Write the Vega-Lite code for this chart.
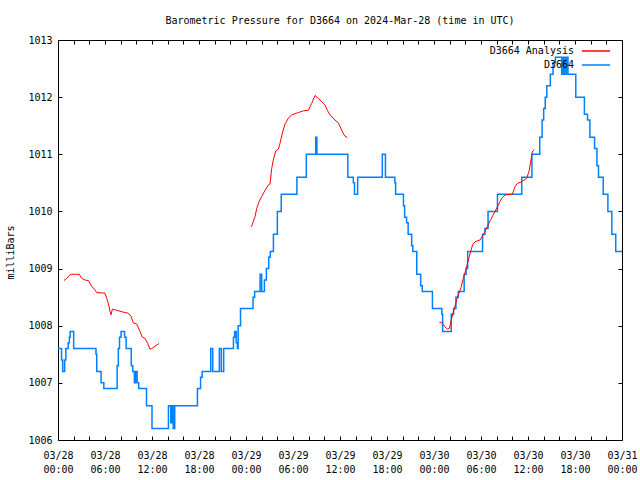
{
  "$schema": "https://vega.github.io/schema/vega-lite/v6.json",
  "width": 564,
  "height": 400,
  "autosize": {"type": "none"},
  "padding": {"left": 58, "top": 40, "right": 18, "bottom": 40},
  "background": "white",
  "config": {
    "view": {"stroke": "black", "strokeWidth": 1},
    "font": "DejaVu Sans Mono",
    "axis": {"labelFont": "DejaVu Sans Mono", "labelFontSize": 10, "labelColor": "black", "titleFont": "DejaVu Sans Mono", "titleFontSize": 10, "titleFontWeight": "normal", "titleColor": "black", "grid": false, "domain": false, "tickColor": "black", "tickWidth": 1}
  },
  "title": {"text": "Barometric Pressure for D3664 on 2024-Mar-28 (time in UTC)", "font": "DejaVu Sans Mono", "fontSize": 10, "fontWeight": "normal", "color": "black", "anchor": "middle", "offset": 9},
  "datasets": {
    "obs": [
      {"hour":0,"mb":1007.6},{"hour":0.45,"mb":1007.4},{"hour":0.6,"mb":1007.2},{"hour":0.85,"mb":1007.4},{"hour":1.0,"mb":1007.6},{"hour":1.3,"mb":1007.7},{"hour":1.45,"mb":1007.8},{"hour":1.55,"mb":1007.9},{"hour":2.0,"mb":1007.6},{"hour":4.85,"mb":1007.5},{"hour":4.95,"mb":1007.2},{"hour":5.5,"mb":1007.0},{"hour":5.85,"mb":1006.9},{"hour":7.55,"mb":1007.3},{"hour":7.7,"mb":1007.6},{"hour":7.85,"mb":1007.8},{"hour":8.05,"mb":1007.9},{"hour":8.5,"mb":1007.8},{"hour":8.7,"mb":1007.6},{"hour":9.35,"mb":1007.3},{"hour":9.55,"mb":1007.2},{"hour":9.75,"mb":1007.0},{"hour":9.9,"mb":1007.2},{"hour":10.1,"mb":1007.0},{"hour":10.3,"mb":1006.9},{"hour":11.3,"mb":1006.6},{"hour":12.0,"mb":1006.2},{"hour":14.1,"mb":1006.6},{"hour":14.4,"mb":1006.3},{"hour":14.55,"mb":1006.6},{"hour":14.7,"mb":1006.2},{"hour":14.9,"mb":1006.6},{"hour":17.8,"mb":1006.9},{"hour":18.2,"mb":1007.1},{"hour":18.4,"mb":1007.2},{"hour":19.5,"mb":1007.6},{"hour":19.75,"mb":1007.2},{"hour":20.6,"mb":1007.6},{"hour":20.85,"mb":1007.2},{"hour":21.15,"mb":1007.6},{"hour":22.4,"mb":1007.8},{"hour":22.55,"mb":1007.9},{"hour":22.75,"mb":1007.7},{"hour":22.9,"mb":1007.6},{"hour":23.0,"mb":1008.0},{"hour":23.3,"mb":1008.3},{"hour":24.9,"mb":1008.5},{"hour":25.1,"mb":1008.6},{"hour":25.8,"mb":1008.9},{"hour":26.0,"mb":1008.6},{"hour":26.35,"mb":1008.8},{"hour":26.6,"mb":1009.0},{"hour":26.9,"mb":1009.2},{"hour":27.1,"mb":1009.3},{"hour":27.5,"mb":1009.6},{"hour":28.0,"mb":1010.0},{"hour":28.5,"mb":1010.3},{"hour":30.5,"mb":1010.6},{"hour":31.7,"mb":1011.0},{"hour":32.9,"mb":1011.3},{"hour":33.05,"mb":1011.0},{"hour":37.0,"mb":1010.6},{"hour":37.7,"mb":1010.5},{"hour":37.85,"mb":1010.3},{"hour":38.25,"mb":1010.6},{"hour":41.4,"mb":1011.0},{"hour":41.8,"mb":1010.6},{"hour":43.0,"mb":1010.5},{"hour":43.1,"mb":1010.3},{"hour":44.1,"mb":1010.1},{"hour":44.25,"mb":1009.9},{"hour":44.5,"mb":1009.8},{"hour":44.7,"mb":1009.6},{"hour":45.15,"mb":1009.4},{"hour":45.3,"mb":1009.3},{"hour":45.8,"mb":1008.9},{"hour":46.3,"mb":1008.7},{"hour":46.5,"mb":1008.6},{"hour":47.8,"mb":1008.3},{"hour":49.0,"mb":1008.2},{"hour":49.1,"mb":1007.9},{"hour":50.2,"mb":1008.2},{"hour":50.5,"mb":1008.3},{"hour":50.8,"mb":1008.5},{"hour":51.1,"mb":1008.6},{"hour":51.85,"mb":1008.9},{"hour":52.1,"mb":1009.0},{"hour":52.3,"mb":1009.3},{"hour":54.2,"mb":1009.6},{"hour":54.5,"mb":1009.7},{"hour":54.9,"mb":1010.0},{"hour":56.1,"mb":1010.3},{"hour":59.2,"mb":1010.6},{"hour":60.5,"mb":1011.0},{"hour":61.5,"mb":1011.3},{"hour":61.8,"mb":1011.6},{"hour":62.0,"mb":1011.8},{"hour":62.2,"mb":1012.0},{"hour":62.4,"mb":1012.2},{"hour":62.85,"mb":1012.4},{"hour":63.2,"mb":1012.6},{"hour":63.5,"mb":1012.7},{"hour":64.3,"mb":1012.4},{"hour":64.5,"mb":1012.7},{"hour":64.7,"mb":1012.4},{"hour":64.9,"mb":1012.7},{"hour":65.1,"mb":1012.4},{"hour":66.1,"mb":1012.0},{"hour":67.2,"mb":1011.7},{"hour":67.6,"mb":1011.6},{"hour":67.9,"mb":1011.3},{"hour":68.5,"mb":1011.1},{"hour":68.8,"mb":1010.8},{"hour":69.0,"mb":1010.6},{"hour":69.6,"mb":1010.3},{"hour":70.2,"mb":1010.0},{"hour":70.7,"mb":1009.6},{"hour":71.2,"mb":1009.3},{"hour":72.0,"mb":1009.3}
    ],
    "ana": [
      {"seg":1,"hour":0.77,"mb":1008.79},{"seg":1,"hour":1.11,"mb":1008.83},{"seg":1,"hour":1.53,"mb":1008.89},{"seg":1,"hour":1.74,"mb":1008.9},{"seg":1,"hour":2.72,"mb":1008.9},{"seg":1,"hour":3.02,"mb":1008.83},{"seg":1,"hour":3.45,"mb":1008.8},{"seg":1,"hour":3.87,"mb":1008.79},{"seg":1,"hour":4.3,"mb":1008.69},{"seg":1,"hour":4.64,"mb":1008.64},{"seg":1,"hour":4.94,"mb":1008.58},{"seg":1,"hour":6.0,"mb":1008.57},{"seg":1,"hour":6.21,"mb":1008.48},{"seg":1,"hour":6.43,"mb":1008.39},{"seg":1,"hour":6.64,"mb":1008.25},{"seg":1,"hour":6.77,"mb":1008.19},{"seg":1,"hour":6.94,"mb":1008.29},{"seg":1,"hour":7.49,"mb":1008.27},{"seg":1,"hour":8.55,"mb":1008.23},{"seg":1,"hour":8.98,"mb":1008.22},{"seg":1,"hour":9.32,"mb":1008.16},{"seg":1,"hour":9.62,"mb":1008.05},{"seg":1,"hour":10.04,"mb":1008.03},{"seg":1,"hour":10.47,"mb":1007.9},{"seg":1,"hour":10.77,"mb":1007.8},{"seg":1,"hour":11.1,"mb":1007.78},{"seg":1,"hour":11.45,"mb":1007.69},{"seg":1,"hour":11.74,"mb":1007.59},{"seg":1,"hour":11.96,"mb":1007.6},{"seg":1,"hour":12.38,"mb":1007.64},{"seg":1,"hour":12.89,"mb":1007.69},
      {"seg":2,"hour":24.6,"mb":1009.74},{"seg":2,"hour":24.72,"mb":1009.74},{"seg":2,"hour":25.15,"mb":1009.91},{"seg":2,"hour":25.37,"mb":1010.05},{"seg":2,"hour":25.66,"mb":1010.17},{"seg":2,"hour":26.0,"mb":1010.26},{"seg":2,"hour":26.43,"mb":1010.37},{"seg":2,"hour":26.85,"mb":1010.46},{"seg":2,"hour":27.07,"mb":1010.48},{"seg":2,"hour":27.28,"mb":1010.75},{"seg":2,"hour":27.49,"mb":1010.9},{"seg":2,"hour":27.79,"mb":1011.06},{"seg":2,"hour":28.13,"mb":1011.09},{"seg":2,"hour":28.34,"mb":1011.19},{"seg":2,"hour":28.64,"mb":1011.37},{"seg":2,"hour":28.98,"mb":1011.53},{"seg":2,"hour":29.4,"mb":1011.63},{"seg":2,"hour":29.83,"mb":1011.69},{"seg":2,"hour":30.68,"mb":1011.73},{"seg":2,"hour":31.32,"mb":1011.76},{"seg":2,"hour":31.96,"mb":1011.77},{"seg":2,"hour":32.38,"mb":1011.89},{"seg":2,"hour":32.81,"mb":1012.03},{"seg":2,"hour":33.23,"mb":1011.98},{"seg":2,"hour":33.66,"mb":1011.92},{"seg":2,"hour":34.09,"mb":1011.86},{"seg":2,"hour":34.38,"mb":1011.77},{"seg":2,"hour":34.72,"mb":1011.69},{"seg":2,"hour":35.36,"mb":1011.6},{"seg":2,"hour":35.79,"mb":1011.55},{"seg":2,"hour":36.22,"mb":1011.42},{"seg":2,"hour":36.51,"mb":1011.34},{"seg":2,"hour":36.77,"mb":1011.3},{"seg":2,"hour":36.94,"mb":1011.3},
      {"seg":3,"hour":48.68,"mb":1008.06},{"seg":3,"hour":48.98,"mb":1008.06},{"seg":3,"hour":49.4,"mb":1007.98},{"seg":3,"hour":49.7,"mb":1007.94},{"seg":3,"hour":49.96,"mb":1007.95},{"seg":3,"hour":50.26,"mb":1008.13},{"seg":3,"hour":50.47,"mb":1008.24},{"seg":3,"hour":50.77,"mb":1008.39},{"seg":3,"hour":51.1,"mb":1008.54},{"seg":3,"hour":51.45,"mb":1008.67},{"seg":3,"hour":51.74,"mb":1008.83},{"seg":3,"hour":52.05,"mb":1008.97},{"seg":3,"hour":52.38,"mb":1009.15},{"seg":3,"hour":52.69,"mb":1009.3},{"seg":3,"hour":52.94,"mb":1009.42},{"seg":3,"hour":53.24,"mb":1009.47},{"seg":3,"hour":53.87,"mb":1009.5},{"seg":3,"hour":54.3,"mb":1009.59},{"seg":3,"hour":54.8,"mb":1009.73},{"seg":3,"hour":55.24,"mb":1009.86},{"seg":3,"hour":55.79,"mb":1010.0},{"seg":3,"hour":56.43,"mb":1010.17},{"seg":3,"hour":56.64,"mb":1010.23},{"seg":3,"hour":57.07,"mb":1010.29},{"seg":3,"hour":58.0,"mb":1010.3},{"seg":3,"hour":58.34,"mb":1010.43},{"seg":3,"hour":58.64,"mb":1010.49},{"seg":3,"hour":59.2,"mb":1010.52},{"seg":3,"hour":59.83,"mb":1010.58},{"seg":3,"hour":60.13,"mb":1010.7},{"seg":3,"hour":60.34,"mb":1010.87},{"seg":3,"hour":60.55,"mb":1011.04},{"seg":3,"hour":60.77,"mb":1011.08}
    ]
  },
  "layer": [
    {
      "data": {"name": "obs"},
      "mark": {"type": "line", "interpolate": "step-after", "strokeWidth": 1.5},
      "encoding": {
        "x": {"field": "hour", "type": "quantitative", "scale": {"domain": [0, 72], "nice": false, "zero": false},
          "axis": {"orient": "bottom", "title": null, "values": [0,2,4,6,8,10,12,14,16,18,20,22,24,26,28,30,32,34,36,38,40,42,44,46,48,50,52,54,56,58,60,62,64,66,68,70,72], "tickSize": -4, "labelPadding": 14, "labelAngle": 0, "labelLineHeight": 14, "labelBaseline": "top", "labelFlush": false, "labelOverlap": false,
            "labelExpr": "datum.value % 6 == 0 ? ['03/' + (28 + floor(datum.value / 24)), (datum.value % 24 < 10 ? '0' : '') + (datum.value % 24) + ':00'] : ''"}},
        "y": {"field": "mb", "type": "quantitative", "scale": {"domain": [1006, 1013], "nice": false, "zero": false},
          "axis": {"orient": "left", "values": [1006,1007,1008,1009,1010,1011,1012,1013], "tickSize": -4, "labelPadding": 10, "format": "d", "title": "milliBars", "titleAngle": -90, "titleX": -48, "titleY": 212, "titleAlign": "center", "titleBaseline": "middle"}},
        "color": {"datum": "D3664", "type": "nominal", "scale": {"domain": ["D3664 Analysis", "D3664"], "range": ["#ff0000", "#0080ff"]},
          "legend": {"orient": "none", "legendX": 532, "legendY": 5, "title": null, "symbolType": "M-2.8,0H2.8", "symbolSize": 100, "symbolStrokeWidth": 1.5, "labelAlign": "right", "labelOffset": -28, "labelFont": "DejaVu Sans Mono", "labelFontSize": 10, "labelColor": "black", "rowPadding": 3, "padding": 0}}
      }
    },
    {
      "data": {"name": "ana"},
      "mark": {"type": "line", "strokeWidth": 1},
      "encoding": {
        "x": {"field": "hour", "type": "quantitative", "scale": {"domain": [0, 72], "nice": false, "zero": false},
          "axis": {"orient": "top", "title": null, "labels": false, "values": [0,2,4,6,8,10,12,14,16,18,20,22,24,26,28,30,32,34,36,38,40,42,44,46,48,50,52,54,56,58,60,62,64,66,68,70,72], "tickSize": -4}},
        "y": {"field": "mb", "type": "quantitative", "scale": {"domain": [1006, 1013], "nice": false, "zero": false},
          "axis": {"orient": "right", "title": null, "labels": false, "values": [1006,1007,1008,1009,1010,1011,1012,1013], "tickSize": -4}},
        "detail": {"field": "seg", "type": "nominal"},
        "color": {"datum": "D3664 Analysis", "type": "nominal"}
      }
    }
  ],
  "resolve": {"axis": {"x": "independent", "y": "independent"}}
}
